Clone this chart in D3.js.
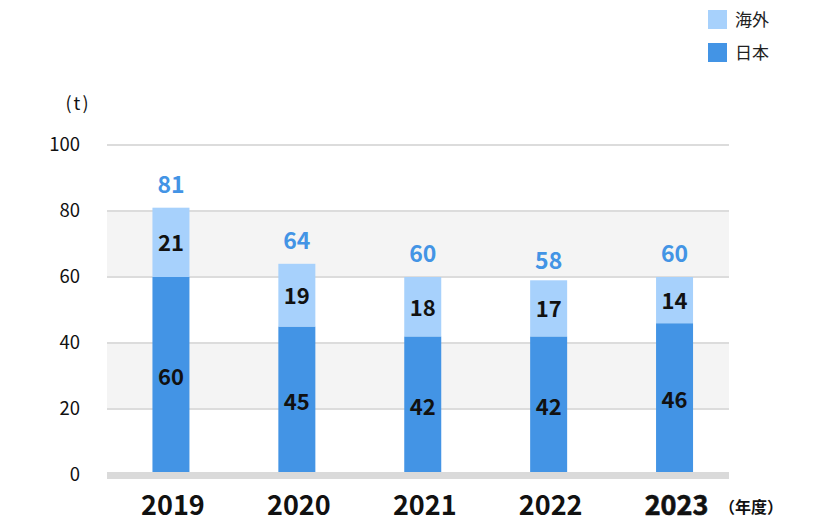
<!DOCTYPE html>
<html><head><meta charset="utf-8">
<script src="https://cdn.jsdelivr.net/npm/d3@7"></script>
<style>
html,body{margin:0;padding:0;background:#fff;}
text{font-family:"Noto Sans CJK JP","Noto Sans",sans-serif;}
</style></head>
<body>
<svg id="c" width="840" height="523"></svg>
<script>
const years = ["2019","2020","2021","2022","2023"];
const japan = [60,45,42,42,46];
const overseas = [21,19,18,17,14];
const totals = [81,64,60,58,60];
const yTicks = [0,20,40,60,80,100];
const seriesNames = ["海外","日本"];

const colJapan = "#4394e5";
const colOver = "#a7d1fc";

const svg = d3.select("#c");
const x = d3.scalePoint().domain(years).range([108,737.5]).padding(0.5);
const y = d3.scaleLinear().domain([0,100]).range([475,145]);
const gridL = 107, gridR = 729, barW = 37;

// alternating bands
[[20,40],[60,80]].forEach(b=>{
  svg.append("rect").attr("x",gridL).attr("width",gridR-gridL)
    .attr("y",y(b[1])).attr("height",y(b[0])-y(b[1])).attr("fill","#f4f4f4");
});
// grid lines
svg.selectAll(".g").data(yTicks.filter(d=>d>0)).enter().append("line")
  .attr("x1",gridL).attr("x2",gridR).attr("y1",d=>y(d)).attr("y2",d=>y(d))
  .attr("stroke","#dcdcdc").attr("stroke-width",2);

// y axis labels
svg.selectAll(".yt").data(yTicks).enter().append("text")
  .attr("x",80).attr("y",d=>y(d)+6).attr("text-anchor","end")
  .attr("font-size",18.5).attr("fill","#111").text(d=>d);
svg.append("text").attr("x",78).attr("y",110).attr("text-anchor","middle")
  .attr("font-size",18).attr("letter-spacing",2).attr("fill","#111").text("(t)");

// bars
const data = years.map((yr,i)=>({yr,j:japan[i],o:overseas[i],t:totals[i]}));
svg.selectAll(".bj").data(data).enter().append("rect")
  .attr("x",d=>x(d.yr)-barW/2).attr("width",barW)
  .attr("y",d=>y(d.j)).attr("height",d=>y(0)-y(d.j)).attr("fill",colJapan);
svg.selectAll(".bo").data(data).enter().append("rect")
  .attr("x",d=>x(d.yr)-barW/2).attr("width",barW)
  .attr("y",d=>y(d.j+d.o)).attr("height",d=>y(d.j)-y(d.j+d.o)).attr("fill",colOver);

// baseline
svg.append("rect").attr("x",gridL).attr("width",gridR-gridL)
  .attr("y",y(0)-3).attr("height",7).attr("fill","#dadada");

// segment labels
svg.selectAll(".lj").data(data).enter().append("text")
  .attr("x",d=>x(d.yr)).attr("y",d=>(y(0)+y(d.j))/2+9)
  .attr("text-anchor","middle").attr("font-size",22).attr("font-weight",700)
  .attr("fill","#111").text(d=>d.j);
svg.selectAll(".lo").data(data).enter().append("text")
  .attr("x",d=>x(d.yr)).attr("y",d=>(y(d.j)+y(d.j+d.o))/2+9)
  .attr("text-anchor","middle").attr("font-size",22).attr("font-weight",700)
  .attr("fill","#111").text(d=>d.o);
// totals
svg.selectAll(".lt").data(data).enter().append("text")
  .attr("x",d=>x(d.yr)).attr("y",d=>y(d.t)-15)
  .attr("text-anchor","middle").attr("font-size",23).attr("font-weight",700)
  .attr("fill","#4394e5").text(d=>d.t);

// x labels
svg.selectAll(".xl").data(years).enter().append("text")
  .attr("x",d=>x(d)+2).attr("y",515).attr("text-anchor","middle")
  .attr("font-size",27).attr("font-weight",700).attr("fill","#111")
  .attr("stroke",(d,i)=>i===years.length-1?"#111":"none")
  .attr("stroke-width",0.6).attr("stroke-linejoin","round")
  .text(d=>d);
svg.append("text").attr("x",719).attr("y",513)
  .attr("font-size",16).attr("font-weight",700).attr("fill","#111").text("（年度）");

// legend
const legCols = [colOver,colJapan];
seriesNames.forEach((n,i)=>{
  svg.append("rect").attr("x",708).attr("y",10+i*33).attr("width",19).attr("height",19).attr("fill",legCols[i]);
  svg.append("text").attr("x",735).attr("y",26+i*33).attr("font-size",17).attr("fill","#222").text(n);
});
</script>
</body></html>
